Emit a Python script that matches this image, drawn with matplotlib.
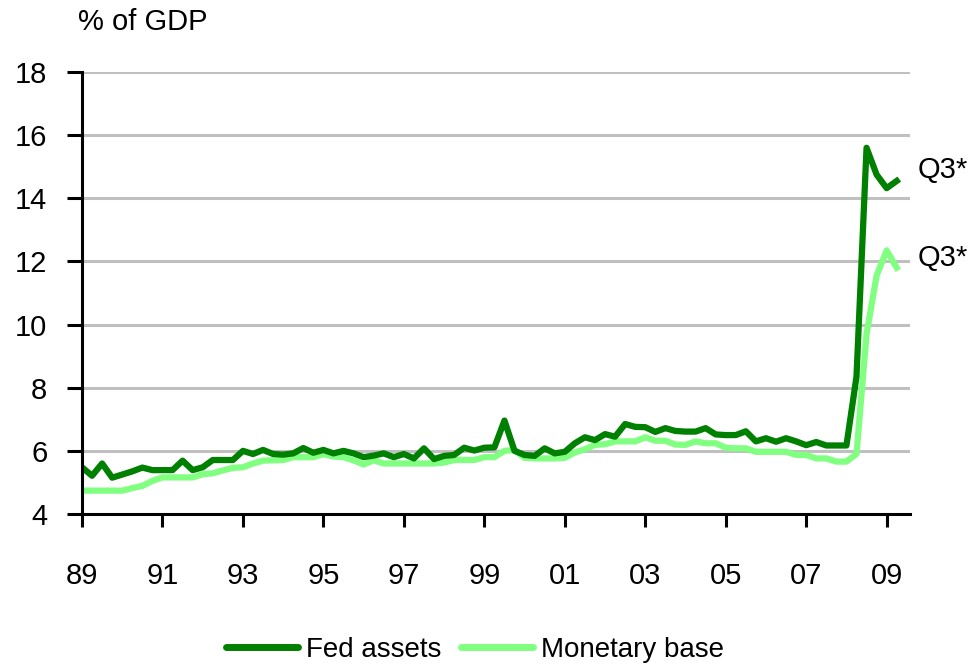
import matplotlib
matplotlib.use("Agg")
import matplotlib.pyplot as plt
import numpy as np

# Quarterly data, starting 1989 Q1
start_year = 89.0
fed_assets = [
    5.48, 5.21, 5.60, 5.15,   # 89
    5.25, 5.35, 5.47, 5.39,   # 90
    5.39, 5.39, 5.69, 5.39,   # 91
    5.48, 5.71, 5.71, 5.71,   # 92
    6.00, 5.90, 6.03, 5.90,   # 93
    5.88, 5.92, 6.09, 5.94,   # 94
    6.03, 5.92, 6.00, 5.92,   # 95
    5.80, 5.85, 5.92, 5.80,   # 96
    5.90, 5.76, 6.08, 5.74,   # 97
    5.84, 5.87, 6.10, 6.01,   # 98
    6.10, 6.11, 6.96, 6.00,   # 99
    5.87, 5.84, 6.08, 5.92,   # 00
    5.97, 6.24, 6.43, 6.34,   # 01
    6.53, 6.45, 6.85, 6.76,   # 02
    6.75, 6.60, 6.72, 6.63,   # 03
    6.61, 6.61, 6.72, 6.52,   # 04
    6.50, 6.50, 6.62, 6.30,   # 05
    6.40, 6.29, 6.40, 6.30,   # 06
    6.18, 6.28, 6.17, 6.17,   # 07
    6.17, 8.35, 15.60, 14.75, # 08
    14.32, 14.55,             # 09
]
monetary_base = [
    4.74, 4.74, 4.74, 4.74,   # 89
    4.74, 4.82, 4.89, 5.05,   # 90
    5.16, 5.16, 5.16, 5.16,   # 91
    5.26, 5.29, 5.38, 5.46,   # 92
    5.48, 5.60, 5.69, 5.70,   # 93
    5.71, 5.80, 5.80, 5.80,   # 94
    5.90, 5.82, 5.80, 5.70,   # 95
    5.57, 5.70, 5.60, 5.60,   # 96
    5.60, 5.60, 5.60, 5.60,   # 97
    5.63, 5.71, 5.71, 5.71,   # 98
    5.80, 5.80, 6.00, 6.03,   # 99
    5.78, 5.76, 5.76, 5.76,   # 00
    5.78, 5.95, 6.05, 6.19,   # 01
    6.21, 6.30, 6.30, 6.30,   # 02
    6.43, 6.32, 6.32, 6.20,   # 03
    6.19, 6.30, 6.24, 6.24,   # 04
    6.10, 6.08, 6.08, 5.97,   # 05
    5.97, 5.97, 5.97, 5.87,   # 06
    5.87, 5.76, 5.76, 5.66,   # 07
    5.66, 5.90, 9.70, 11.55,  # 08
    12.35, 11.80,             # 09
]
x_tick_positions = [89, 91, 93, 95, 97, 99, 101, 103, 105, 107, 109]
x_tick_labels = ["89", "91", "93", "95", "97", "99", "01", "03", "05", "07", "09"]
y_ticks = [4, 6, 8, 10, 12, 14, 16, 18]

FONT = ["Liberation Sans Narrow", "Liberation Sans", "DejaVu Sans"]
plt.rcParams["font.family"] = FONT
FS = 21

DARK = "#008000"
LIGHT = "#80ff80"

x = start_year + 0.25 * np.arange(len(fed_assets))

fig = plt.figure(figsize=(9.72, 6.71), dpi=100)
ax = fig.add_axes([82 / 972, 1 - 514 / 671, (910 - 82) / 972, (514 - 72) / 671])

ax.plot(x, fed_assets, color=DARK, lw=4.5, solid_joinstyle="round", label="Fed assets", zorder=3)
ax.plot(x, monetary_base, color=LIGHT, lw=4.5, solid_joinstyle="round", label="Monetary base", zorder=2)

ax.set_xlim(89, 109.58)
ax.set_ylim(4, 18)
ax.set_yticks(y_ticks)
ax.set_yticklabels([str(v) for v in y_ticks])
ax.set_xticks(x_tick_positions)
ax.set_xticklabels(x_tick_labels)

for yv in y_ticks[1:]:
    ax.axhline(yv, color="#c0c0c0", lw=2.2, zorder=1)

for s in ["top", "right"]:
    ax.spines[s].set_visible(False)
for s in ["left", "bottom"]:
    ax.spines[s].set_linewidth(2.2)
    ax.spines[s].set_color("black")
    ax.spines[s].set_zorder(4)

ax.tick_params(axis="y", length=11, width=2.2, pad=14, labelsize=FS)
ax.tick_params(axis="x", length=9.5, width=2.2, pad=25, labelsize=FS)

fig.text(78 / 972, 1 - 22 / 671, "% of GDP", fontsize=FS, va="center", ha="left")

ax.annotate("Q3*", xy=(x[-1], fed_assets[-1]), xytext=(918, 671 - 170), textcoords="figure pixels",
            fontsize=FS, va="center", ha="left")
ax.annotate("Q3*", xy=(x[-1], monetary_base[-1]), xytext=(918, 671 - 258), textcoords="figure pixels",
            fontsize=FS, va="center", ha="left")

leg = fig.legend(loc="center", bbox_to_anchor=(475 / 972, 1 - 650 / 671), ncol=2, frameon=False,
                 fontsize=20, handlelength=2.6, handletextpad=0.3, columnspacing=0.7)
for line in leg.get_lines():
    line.set_linewidth(5)
    line.set_solid_capstyle("round")

fig.savefig("out.png", dpi=100)
